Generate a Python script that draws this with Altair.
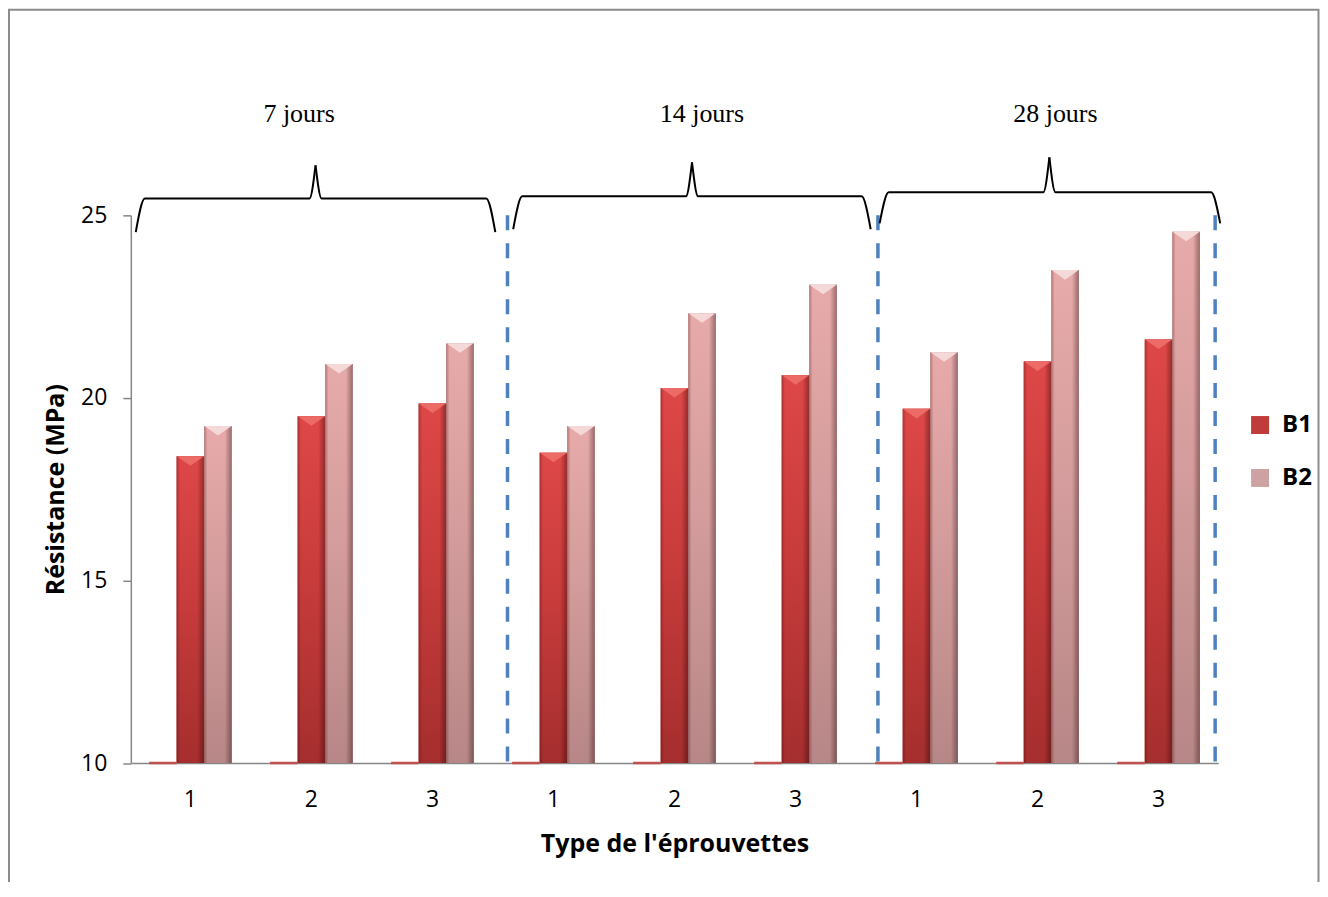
import altair as alt
import pandas as pd

# ---------------- data ----------------
groups = ["7 jours", "14 jours", "28 jours"]
specimens = ["1", "2", "3"]
series_names = ["B1", "B2"]
b1_values = [18.4, 19.5, 19.85, 18.5, 20.27, 20.62, 19.7, 21.0, 21.6]
b2_values = [19.23, 20.93, 21.5, 19.23, 22.32, 23.1, 21.25, 23.5, 24.55]
empty_series = [10, 10, 10, 10, 10, 10, 10, 10, 10]   # third (empty) series lying on the axis
y_ticks = [10, 15, 20, 25]

# annotations, in category units (0 = left edge of plot, 9 = right edge) and MPa
divider_x = [3.118, 6.184, 8.975]
brace_start = [0.041, 3.165, 6.198]
brace_end = [3.017, 6.124, 9.017]
brace_mid = [1.529, 4.645, 7.603]
brace_low = [24.54, 24.62, 24.78]
brace_top = [25.46, 25.52, 25.63]
brace_peak = [26.37, 26.45, 26.59]
label_x = [1.393, 4.727, 7.653]
label_y = [27.57, 27.57, 27.57]

cats = [f"{g}|{s}" for g in groups for s in specimens]

rows = []
for i, c in enumerate(cats):
    rows.append({"cat": c, "series": "S0", "value": empty_series[i]})
    rows.append({"cat": c, "series": "B1", "value": b1_values[i]})
    rows.append({"cat": c, "series": "B2", "value": b2_values[i]})
df = pd.DataFrame(rows)

brace_rows = []
for k in range(3):
    xa, xb, xm = brace_start[k], brace_end[k], brace_mid[k]
    lo, tp, pk = brace_low[k], brace_top[k], brace_peak[k]
    left = [(xa, lo), (xa + 0.075, tp), (xm - 0.05, tp), (xm, pk)]
    right = [(xm, pk), (xm + 0.05, tp), (xb - 0.075, tp), (xb, lo)]
    for j, (bx, by) in enumerate(left):
        brace_rows.append({"seg": f"{k}L", "i": j, "bx": bx, "by": by})
    for j, (bx, by) in enumerate(right):
        brace_rows.append({"seg": f"{k}R", "i": j, "bx": bx, "by": by})
brace_df = pd.DataFrame(brace_rows)
div_df = pd.DataFrame({"dx": divider_x})
lab_df = pd.DataFrame({"tx": label_x, "ty": label_y, "label": groups})

# ---------------- styling ----------------
FONT = "Open Sans"
W, H = 1089, 548.5
YS = alt.Scale(domain=[10, 25], nice=False, zero=False)
Y_AXIS = alt.Axis(values=y_ticks, title="Résistance (MPa)", grid=False, tickSize=8,
                  tickColor="#868686", tickWidth=1.5, domainColor="#868686", domainWidth=1.5,
                  labelFont=FONT, labelFontSize=23, labelColor="#000000", labelPadding=16,
                  titleFont=FONT, titleFontSize=25, titleFontWeight="bold",
                  titleColor="#000000", titlePadding=12)
X_AXIS = alt.Axis(title="Type de l'éprouvettes", labelExpr="split(datum.value, '|')[1]",
                  labelAngle=0, ticks=False, grid=False, domainColor="#868686", domainWidth=1.5,
                  labelFont=FONT, labelFontSize=23, labelColor="#000000", labelPadding=26,
                  titleFont=FONT, titleFontSize=25, titleFontWeight="bold",
                  titleColor="#000000", titlePadding=20)
AX = alt.Scale(domain=[0, 9], nice=False, zero=False)

base = alt.Chart(df).encode(
    x=alt.X("cat:N", sort=cats, scale=alt.Scale(paddingInner=0.317, paddingOuter=0.151), axis=X_AXIS),
    xOffset=alt.XOffset("series:N", scale=alt.Scale(domain=["S0", "B1", "B2"], paddingInner=0, paddingOuter=0)),
    y=alt.Y("value:Q", scale=YS, axis=Y_AXIS),
)

def vgrad(stops):
    return alt.Gradient(gradient="linear", x1=0, x2=0, y1=0, y2=1,
                        stops=[alt.GradientStop(color=c, offset=o) for o, c in stops])

def hgrad(stops):
    return alt.Gradient(gradient="linear", x1=0, x2=1, y1=0, y2=0,
                        stops=[alt.GradientStop(color=c, offset=o) for o, c in stops])

legend_bars = base.transform_filter(alt.FieldOneOfPredicate(field="series", oneOf=series_names)).mark_bar().encode(
    y2=alt.datum(10),
    color=alt.Color("series:N", scale=alt.Scale(domain=series_names, range=["#C23B3B", "#CDA2A2"]),
                    legend=alt.Legend(title=None, orient="none", legendX=1119, legendY=198,
                                      symbolType="square", symbolSize=324, symbolStrokeWidth=0,
                                      labelFont=FONT, labelFontSize=24, labelFontWeight="bold",
                                      labelColor="#000000", rowPadding=29, labelOffset=10, padding=0)),
)

b1_bars = base.transform_filter(alt.datum.series == "B1").mark_bar(
    fill=vgrad([(0, "#DE4747"), (0.45, "#C93C3C"), (1, "#A52E2E")])
).encode(y2=alt.datum(10))
b2_bars = base.transform_filter(alt.datum.series == "B2").mark_bar(
    fill=vgrad([(0, "#E7AAAA"), (0.45, "#D49C9C"), (1, "#B78686")])
).encode(y2=alt.datum(10))
shade = base.transform_filter(alt.FieldOneOfPredicate(field="series", oneOf=series_names)).mark_bar(
    fill=hgrad([(0, "rgba(60,0,0,0.30)"), (0.12, "rgba(60,0,0,0)"), (0.75, "rgba(0,0,0,0)"), (1, "rgba(40,0,0,0.38)")])
).encode(y2=alt.datum(10))
CAP = "M-1,0L1,0L0,0.7Z"
cap1 = base.transform_filter(alt.datum.series == "B1").mark_point(
    shape=CAP, size=745, filled=True, color="#EC6B67", opacity=1, strokeWidth=0)
cap2 = base.transform_filter(alt.datum.series == "B2").mark_point(
    shape=CAP, size=745, filled=True, color="#F5D9D9", opacity=1, strokeWidth=0)
flat = base.transform_filter(alt.datum.series == "S0").mark_bar(
    color="#C0504D", stroke="#C0504D", strokeWidth=2.5).encode(y2=alt.datum(10))

bars = alt.layer(legend_bars, b1_bars, b2_bars, shade, cap1, cap2, flat)

dividers = alt.Chart(div_df).mark_rule(color="#4F81BD", strokeWidth=3.5, strokeDash=[15, 13]).encode(
    x=alt.X("dx:Q", scale=AX, axis=None),
    y=alt.datum(25), y2=alt.datum(10),
)
braces = alt.Chart(brace_df).mark_line(color="#000000", strokeWidth=2, interpolate="monotone").encode(
    x=alt.X("bx:Q", scale=AX, axis=None),
    y=alt.Y("by:Q", scale=YS, axis=Y_AXIS),
    detail="seg:N",
    order="i:Q",
)
labels = alt.Chart(lab_df).mark_text(font="Liberation Serif", fontSize=26, color="#000000",
                                     align="center", baseline="alphabetic").encode(
    x=alt.X("tx:Q", scale=AX, axis=None),
    y=alt.Y("ty:Q", scale=YS, axis=Y_AXIS),
    text="label:N",
)
annotations = alt.layer(dividers, braces, labels)

frame = alt.Chart(pd.DataFrame({"f": [0]})).mark_rect(
    fill="transparent", stroke="#8C8C8C", strokeWidth=2).encode(
    x=alt.value(-122), x2=alt.value(1189.5), y=alt.value(-206), y2=alt.value(800))

chart = alt.layer(bars, annotations, frame).resolve_scale(x="independent").properties(
    width=W, height=H,
    autosize=alt.AutoSizeParams(type="none"),
    padding={"left": 123, "top": 207, "right": 102, "bottom": 118},
    background="#FFFFFF",
).configure(font=FONT).configure_view(stroke="transparent").configure_axis(grid=False)

chart.save("out.html", embed_options={"renderer": "svg", "actions": False})
